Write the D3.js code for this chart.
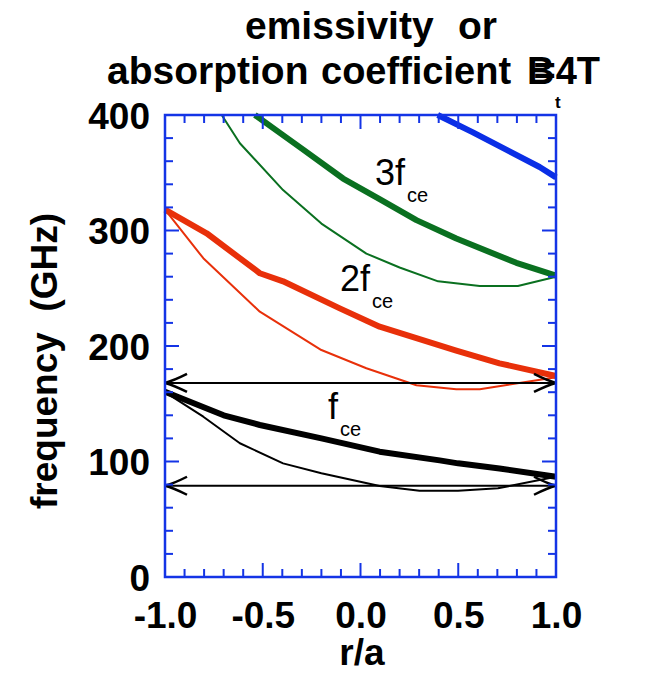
<!DOCTYPE html>
<html><head><meta charset="utf-8">
<script src="https://cdn.jsdelivr.net/npm/d3@7"></script>
<style>body{margin:0;background:#fff}svg text{font-family:"Liberation Sans",Arial,Helvetica,sans-serif;white-space:pre}</style>
</head><body><svg id="c" width="650" height="673"></svg>
<script>
// ---- data ----
const xTicks = [-1.0, -0.5, 0.0, 0.5, 1.0];
const yTicks = [0, 100, 200, 300, 400];
const blueThickR = [0.395, 0.575, 0.745, 0.916, 1.0];
const blueThickF = [400, 385, 370, 355, 346];
const greenThickR = [-0.54, -0.4, -0.293, -0.089, 0.1, 0.286, 0.49, 0.797, 1.0];
const greenThickF = [400, 383, 370, 345, 327, 309, 293, 272, 261];
const greenThinR = [-0.71, -0.617, -0.396, -0.2, 0.03, 0.2, 0.397, 0.61, 0.805, 1.0];
const greenThinF = [400, 375.5, 335, 306, 280, 268, 256, 252, 252, 260];
const redThickR = [-1, -0.787, -0.515, -0.396, -0.106, 0.098, 0.49, 0.711, 1.0];
const redThickF = [318, 297.6, 263, 256, 232.6, 216.7, 196, 185, 174];
const redThinR = [-1, -0.804, -0.515, -0.2, 0.03, 0.286, 0.49, 0.61, 1.0];
const redThinF = [318, 276, 229.7, 196.5, 180.7, 166, 162.5, 162.5, 173];
const blackThickR = [-1, -0.70, -0.515, -0.2, 0.098, 0.405, 0.499, 0.711, 1.0];
const blackThickF = [160.4, 140, 131.6, 120, 108.5, 101, 98.4, 94, 86.8];
const blackThinR = [-1, -0.804, -0.617, -0.396, -0.2, 0.098, 0.302, 0.499, 0.703, 1.0];
const blackThinF = [160, 138.8, 115.8, 98.4, 89.8, 78.8, 74.7, 74.7, 76.8, 86.8];
const arrowF = [168, 79];
const labelMain = ["3f", "2f", "f"];
const labelSub = ["ce", "ce", "ce"];
const labelR = [0.074, -0.105, -0.166];
const labelF = [339.4, 247.6, 136.8];

// ---- layout ----
const svg = d3.select("#c");
const L = 165, R = 556, T = 115, B = 577;
const x = d3.scaleLinear().domain([-1, 1]).range([L, R]);
const y = d3.scaleLinear().domain([0, 400]).range([B, T]);
const axisBlue = "#1434e6";

function bold(xp, yp, txt, anchor, size) {
  return svg.append("text").attr("x", xp).attr("y", yp).attr("text-anchor", anchor || "start")
    .attr("font-size", size || 37).attr("font-weight", "bold").text(txt);
}
// title
bold(245, 39, "emissivity", "start", 39);
bold(497, 39, "or", "end", 39);
bold(107, 84, "absorption", "start", 39);
bold(321, 84, "coefficient", "start", 38);
const bt = bold(527, 84, "", "start", 38);
bt.append("tspan").text("B");
bt.append("tspan").attr("dx", -21).text("=");
bt.append("tspan").text("4T");
svg.append("text").attr("x", 555).attr("y", 108).attr("font-size", 17)
  .attr("font-weight", "bold").text("t");

// curves
const g = svg.append("g");
const line = d3.line().x(d => x(d[0])).y(d => y(d[1]));
function curve(rs, fs, color, w) {
  g.append("path").datum(d3.zip(rs, fs)).attr("d", line)
    .attr("fill", "none").attr("stroke", color).attr("stroke-width", w)
    .attr("stroke-linejoin", "round");
}
curve(greenThinR, greenThinF, "#0a7020", 2);
curve(greenThickR, greenThickF, "#0a7020", 6);
curve(blueThickR, blueThickF, "#0a2ee6", 6);
curve(redThinR, redThinF, "#e8300a", 2);
curve(redThickR, redThickF, "#e8300a", 6);
curve(blackThinR, blackThinF, "#000", 2);
curve(blackThickR, blackThickF, "#000", 6);

// arrows
arrowF.forEach(f => {
  const yy = y(f), x0 = x(-1), x1 = x(1);
  g.append("line").attr("x1", x0).attr("x2", x1).attr("y1", yy).attr("y2", yy)
    .attr("stroke", "#000").attr("stroke-width", 2);
  g.append("path").attr("d", `M${x0+22},${yy-9} Q${x0+8},${yy-2} ${x0},${yy} Q${x0+8},${yy+2} ${x0+22},${yy+9}`)
    .attr("fill", "none").attr("stroke", "#000").attr("stroke-width", 2.5);
  g.append("path").attr("d", `M${x1-22},${yy-9} Q${x1-8},${yy-2} ${x1},${yy} Q${x1-8},${yy+2} ${x1-22},${yy+9}`)
    .attr("fill", "none").attr("stroke", "#000").attr("stroke-width", 2.5);
});

// labels
labelMain.forEach((m, i) => {
  const t = svg.append("text").attr("x", x(labelR[i])).attr("y", y(labelF[i])).attr("font-size", 36);
  t.append("tspan").text(m);
  t.append("tspan").attr("font-size", 20).attr("dx", 2).attr("dy", 17).text(labelSub[i]);
});

// axes: box with inward ticks
const minorX = d3.range(-10, 11).map(v => v / 10);
const minorY = d3.range(0, 21).map(v => v * 20);
const ax = svg.append("g").attr("stroke", axisBlue).attr("fill", "none");
minorX.forEach(v => {
  const major = Math.abs(v * 2 - Math.round(v * 2)) < 1e-9;
  const len = major ? 14 : 8;
  ax.append("line").attr("x1", x(v)).attr("x2", x(v)).attr("y1", B).attr("y2", B - len).attr("stroke-width", 2);
  ax.append("line").attr("x1", x(v)).attr("x2", x(v)).attr("y1", T).attr("y2", T + len).attr("stroke-width", 2);
});
minorY.forEach(v => {
  const len = v % 100 === 0 ? 14 : 8;
  ax.append("line").attr("x1", L).attr("x2", L + len).attr("y1", y(v)).attr("y2", y(v)).attr("stroke-width", 2);
  ax.append("line").attr("x1", R).attr("x2", R - len).attr("y1", y(v)).attr("y2", y(v)).attr("stroke-width", 2);
});
ax.append("rect").attr("x", L).attr("y", T).attr("width", R - L).attr("height", B - T).attr("stroke-width", 2.5);

// tick labels via d3 axes (lines hidden)
const fmtX = d => (d < 0 ? "-" : "") + Math.abs(d).toFixed(1);
const xAxis = svg.append("g").attr("transform", `translate(0,${B})`)
  .call(d3.axisBottom(x).tickValues(xTicks).tickFormat(fmtX).tickSize(0));
const yAxis = svg.append("g").attr("transform", `translate(${L},0)`)
  .call(d3.axisLeft(y).tickValues(yTicks).tickFormat(d3.format("d")).tickSize(0).tickPadding(15));
[xAxis, yAxis].forEach(a => {
  a.select(".domain").remove();
  a.selectAll("text").attr("font-size", 37).attr("font-weight", "bold").attr("fill", "#000")
    .style("font-family", '"Liberation Sans",Arial,sans-serif');
});
xAxis.selectAll("text").attr("dy", null).attr("y", 51);
yAxis.selectAll("text").attr("dy", "0.36em");

// axis titles
bold(362, 665, "r/a", "middle");
svg.append("text").attr("transform", "translate(57,361) rotate(-90)").attr("text-anchor", "middle")
  .attr("font-size", 37).attr("font-weight", "bold").text("frequency  (GHz)");
</script></body></html>
